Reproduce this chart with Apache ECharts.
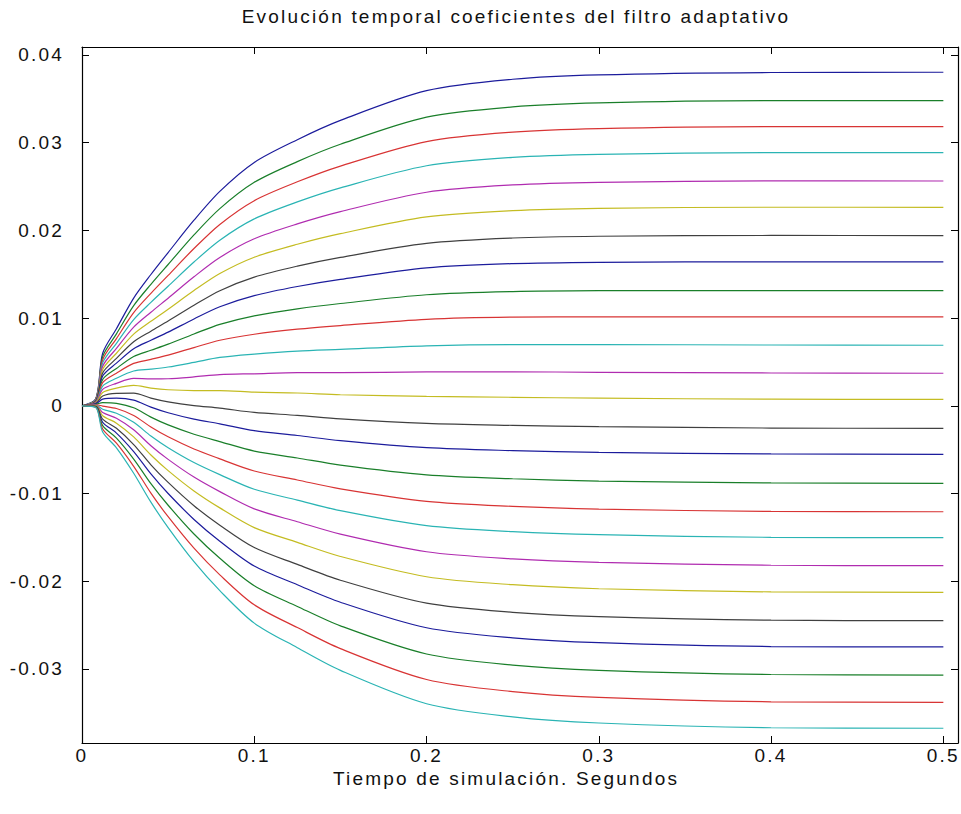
<!DOCTYPE html>
<html>
<head>
<meta charset="utf-8">
<script src="https://cdn.jsdelivr.net/npm/echarts@6/dist/echarts.min.js"></script>
<style>
html,body{margin:0;padding:0;background:#fff;}
#chart{width:961px;height:814px;}
#chart text{letter-spacing:2.2px;}
</style>
</head>
<body>
<div id="chart"></div>
<script>
// Tiempo de simulación (s)
const tiempo = [0, 0.008, 0.012, 0.02, 0.03, 0.04, 0.05, 0.065, 0.08, 0.1, 0.125, 0.15, 0.2, 0.25, 0.3, 0.4, 0.5];

// Coeficientes del filtro
const w01 = [0, 0.00080, 0.00599, 0.00879, 0.01228, 0.01497, 0.01747, 0.02116, 0.02445, 0.02775, 0.03034, 0.03254, 0.03593, 0.03723, 0.03773, 0.03800, 0.03803];
const w02 = [0, 0.00076, 0.00560, 0.00820, 0.01142, 0.01385, 0.01611, 0.01948, 0.02248, 0.02548, 0.02784, 0.02982, 0.03291, 0.03408, 0.03453, 0.03479, 0.03479];
const w03 = [0, 0.00072, 0.00525, 0.00766, 0.01062, 0.01282, 0.01487, 0.01793, 0.02068, 0.02339, 0.02554, 0.02733, 0.03013, 0.03120, 0.03160, 0.03183, 0.03182];
const w04 = [0, 0.00068, 0.00489, 0.00712, 0.00983, 0.01179, 0.01363, 0.01639, 0.01888, 0.02131, 0.02325, 0.02485, 0.02737, 0.02832, 0.02867, 0.02887, 0.02886];
const w05 = [0, 0.00063, 0.00450, 0.00654, 0.00897, 0.01067, 0.01227, 0.01471, 0.01691, 0.01904, 0.02074, 0.02214, 0.02435, 0.02518, 0.02548, 0.02564, 0.02563];
const w06 = [0, 0.00059, 0.00414, 0.00599, 0.00817, 0.00963, 0.01101, 0.01314, 0.01508, 0.01694, 0.01842, 0.01963, 0.02154, 0.02226, 0.02252, 0.02264, 0.02263];
const w07 = [0, 0.00055, 0.00375, 0.00540, 0.00731, 0.00851, 0.00966, 0.01146, 0.01312, 0.01467, 0.01592, 0.01692, 0.01852, 0.01913, 0.01933, 0.01942, 0.01940];
const w08 = [0, 0.00051, 0.00339, 0.00486, 0.00651, 0.00747, 0.00840, 0.00990, 0.01129, 0.01256, 0.01360, 0.01441, 0.01572, 0.01621, 0.01636, 0.01642, 0.01640];
const w09 = [0, 0.00047, 0.00300, 0.00426, 0.00563, 0.00633, 0.00703, 0.00819, 0.00929, 0.01026, 0.01106, 0.01166, 0.01266, 0.01302, 0.01312, 0.01314, 0.01312];
const w10 = [0, 0.00043, 0.00264, 0.00372, 0.00483, 0.00529, 0.00577, 0.00664, 0.00747, 0.00816, 0.00874, 0.00915, 0.00986, 0.01011, 0.01014, 0.01014, 0.01013];
const w11 = [0, 0.00038, 0.00225, 0.00314, 0.00397, 0.00417, 0.00442, 0.00495, 0.00551, 0.00589, 0.00624, 0.00644, 0.00684, 0.00698, 0.00698, 0.00693, 0.00690];
const w12 = [0, 0.00034, 0.00187, 0.00256, 0.00312, 0.00306, 0.00308, 0.00329, 0.00356, 0.00365, 0.00377, 0.00377, 0.00386, 0.00387, 0.00382, 0.00374, 0.00371];
const w13 = [0, 0.00030, 0.00151, 0.00201, 0.00232, 0.00202, 0.00183, 0.00174, 0.00174, 0.00155, 0.00146, 0.00126, 0.00107, 0.00097, 0.00087, 0.00075, 0.00072];
const w14 = [0, 0.00026, 0.00111, 0.00142, 0.00144, 0.00088, 0.00045, 0.00002, -0.00026, -0.00076, -0.00109, -0.00150, -0.00201, -0.00223, -0.00238, -0.00254, -0.00257];
const w15 = [0, 0.00022, 0.00076, 0.00088, 0.00065, -0.00015, -0.00079, -0.00152, -0.00206, -0.00284, -0.00339, -0.00398, -0.00478, -0.00511, -0.00531, -0.00549, -0.00553];
const w16 = [0, 0.00017, 0.00036, 0.00028, -0.00023, -0.00129, -0.00218, -0.00324, -0.00408, -0.00516, -0.00595, -0.00676, -0.00787, -0.00832, -0.00858, -0.00880, -0.00884];
const w17 = [0, 0.00013, -0.00003, -0.00031, -0.00110, -0.00242, -0.00354, -0.00493, -0.00605, -0.00744, -0.00846, -0.00947, -0.01090, -0.01147, -0.01178, -0.01204, -0.01208];
const w18 = [0, 0.00009, -0.00039, -0.00085, -0.00189, -0.00345, -0.00478, -0.00647, -0.00785, -0.00952, -0.01075, -0.01196, -0.01367, -0.01435, -0.01470, -0.01500, -0.01504];
const w19 = [0, 0.00005, -0.00077, -0.00143, -0.00274, -0.00455, -0.00611, -0.00813, -0.00979, -0.01176, -0.01322, -0.01463, -0.01664, -0.01745, -0.01785, -0.01818, -0.01823];
const w20 = [0, 0.00001, -0.00113, -0.00198, -0.00355, -0.00561, -0.00739, -0.00971, -0.01164, -0.01389, -0.01557, -0.01718, -0.01949, -0.02040, -0.02086, -0.02122, -0.02127];
const w21 = [0, -0.00004, -0.00152, -0.00257, -0.00442, -0.00673, -0.00874, -0.01140, -0.01361, -0.01616, -0.01808, -0.01989, -0.02251, -0.02355, -0.02405, -0.02445, -0.02450];
const w22 = [0, -0.00008, -0.00188, -0.00311, -0.00522, -0.00777, -0.01000, -0.01296, -0.01544, -0.01827, -0.02040, -0.02240, -0.02531, -0.02646, -0.02701, -0.02745, -0.02750];
const w23 = [0, -0.00012, -0.00227, -0.00369, -0.00607, -0.00888, -0.01134, -0.01462, -0.01739, -0.02052, -0.02288, -0.02509, -0.02830, -0.02957, -0.03017, -0.03064, -0.03070];
const w24 = [0, -0.00016, -0.00264, -0.00426, -0.00690, -0.00996, -0.01265, -0.01624, -0.01928, -0.02270, -0.02529, -0.02769, -0.03121, -0.03259, -0.03325, -0.03375, -0.03381];
const w25 = [0, -0.00020, -0.00300, -0.00479, -0.00769, -0.01099, -0.01389, -0.01778, -0.02108, -0.02478, -0.02758, -0.03017, -0.03397, -0.03547, -0.03617, -0.03671, -0.03677];

const coeficientes = [w01, w02, w03, w04, w05, w06, w07, w08, w09, w10, w11, w12, w13,
                      w14, w15, w16, w17, w18, w19, w20, w21, w22, w23, w24, w25];

// Etiquetas de los ejes
const xTicks = [0, 0.1, 0.2, 0.3, 0.4, 0.5];
const yTicks = [-0.03, -0.02, -0.01, 0, 0.01, 0.02, 0.03, 0.04];

const titulo = 'Evolución temporal coeficientes del filtro adaptativo';
const etiquetaX = 'Tiempo de simulación. Segundos';

// MATLAB default line color order
const colores = ['#1c1c9c', '#1a7f2a', '#d83434', '#2ab4b4', '#b02cb0', '#c4bc22', '#404040'];

const FONT = '"Liberation Sans", Arial, sans-serif';
const FS = 19;
const chart = echarts.init(document.getElementById('chart'), null, {renderer: 'svg'});

const fmt = v => {
  const r = Math.round(v * 100) / 100;
  return r === 0 ? '0' : String(r);
};

const series = coeficientes.map((w, i) => ({
  type: 'line',
  name: 'w' + (i + 1),
  data: tiempo.map((t, k) => [t, w[k]]),
  showSymbol: false,
  smooth: 0.3,
  lineStyle: {width: 1.2, color: colores[i % colores.length]},
  itemStyle: {color: colores[i % colores.length]},
  emphasis: {disabled: true},
  animation: false,
  z: 2
}));

const axisCommon = {
  axisLine: {show: true, onZero: false, lineStyle: {color: '#000', width: 1.2}},
  axisTick: {show: true, inside: true, length: 7, lineStyle: {color: '#000'}},
  splitLine: {show: false}
};

chart.setOption({
  backgroundColor: '#ffffff',
  animation: false,
  color: colores,
  title: {
    text: titulo,
    left: 511,
    top: 2,
    textAlign: 'center',
    textStyle: {fontFamily: FONT, fontSize: FS, fontWeight: 'normal', color: '#111'}
  },
  grid: {left: 82, right: 3, top: 47, bottom: 71, containLabel: false},
  xAxis: [{
    type: 'value',
    min: 0,
    max: 0.5085,
    interval: 0.1,
    name: etiquetaX,
    nameLocation: 'middle',
    nameGap: 26,
    nameMoveOverlap: false,
    nameTextStyle: {fontFamily: FONT, fontSize: FS, color: '#111', padding: [0, 28, 0, 0]},
    ...axisCommon,
    axisLabel: {
      fontFamily: FONT, fontSize: FS, color: '#111', margin: 3,
      showMaxLabel: false,
      formatter: v => xTicks.some(t => Math.abs(t - v) < 1e-9) ? fmt(v) : ''
    }
  }, {
    type: 'value',
    position: 'top',
    min: 0,
    max: 0.5085,
    interval: 0.1,
    ...axisCommon,
    axisLabel: {show: false}
  }],
  yAxis: [{
    type: 'value',
    min: -0.03845,
    max: 0.04091,
    splitNumber: 8,
    ...axisCommon,
    axisLabel: {
      fontFamily: FONT, fontSize: FS, color: '#111', margin: 18,
      showMinLabel: false, showMaxLabel: false,
      formatter: v => yTicks.some(t => Math.abs(t - v) < 1e-9) ? fmt(v) : ''
    }
  }, {
    type: 'value',
    position: 'right',
    min: -0.03845,
    max: 0.04091,
    splitNumber: 8,
    ...axisCommon,
    axisLabel: {show: false}
  }],
  series: series
});
</script>
</body>
</html>
